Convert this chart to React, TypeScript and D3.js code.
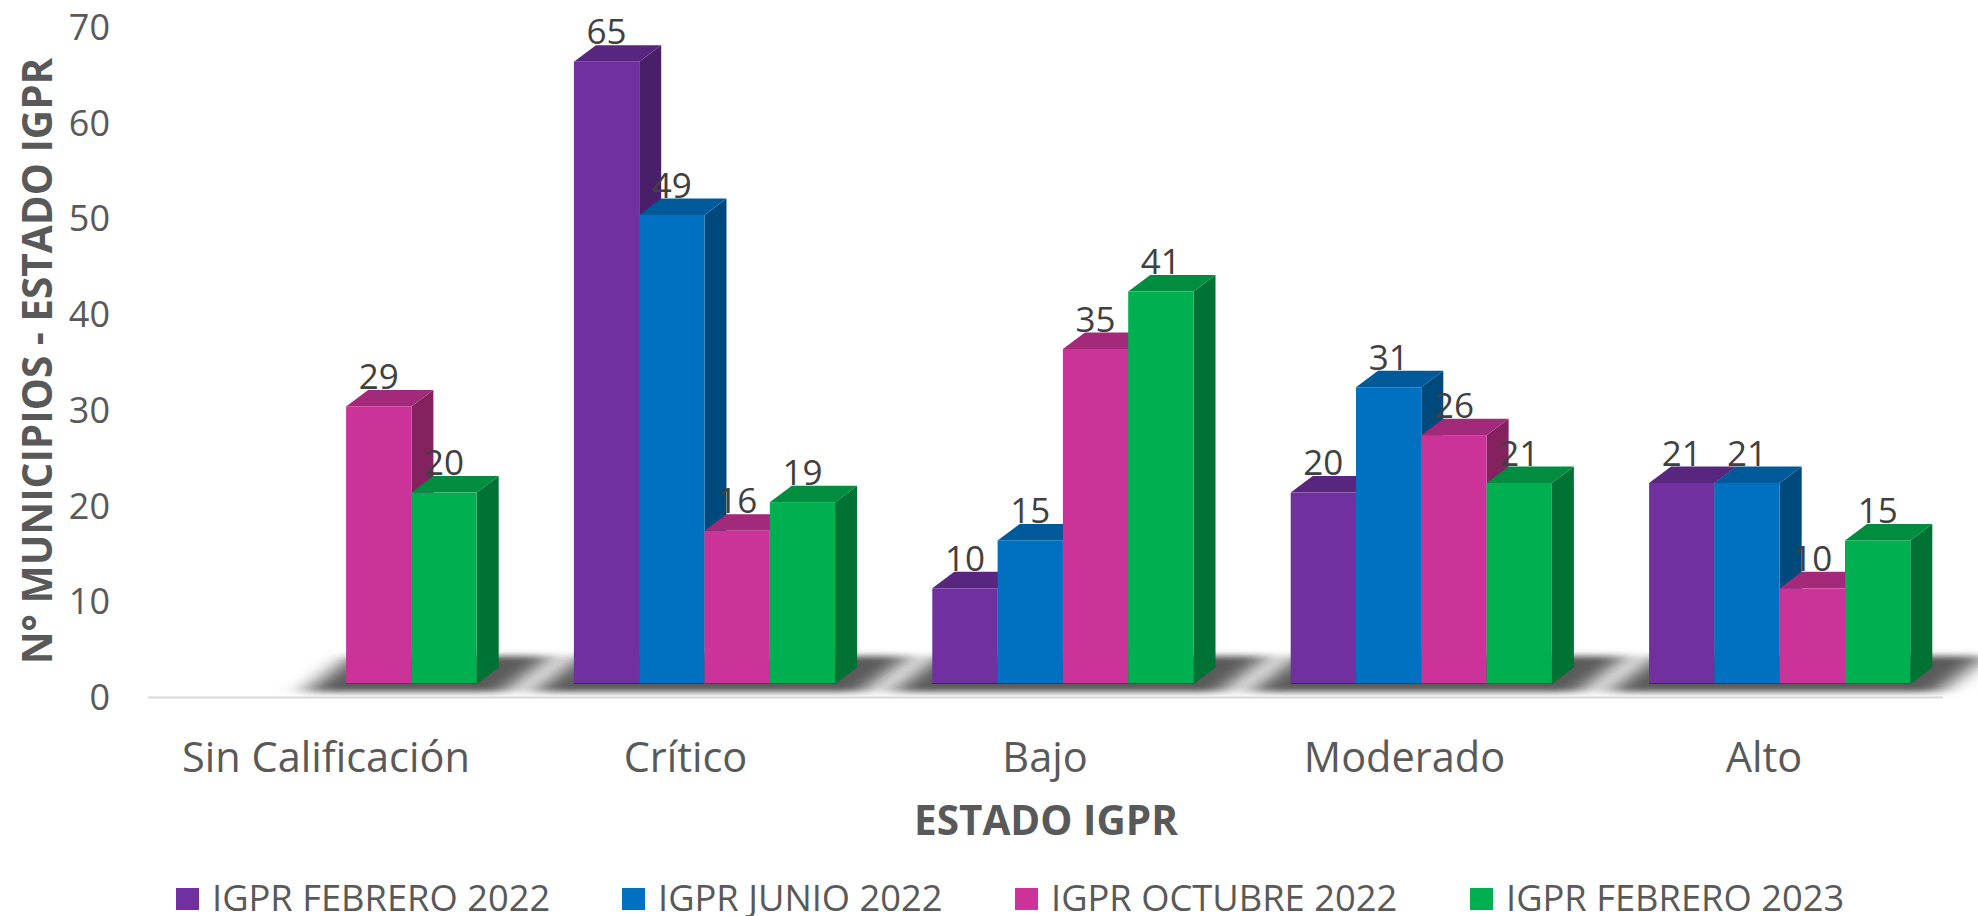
import React from "react";
import * as d3 from "d3";

const categories = ["Sin Calificación", "Crítico", "Bajo", "Moderado", "Alto"];
const seriesNames = ["IGPR FEBRERO 2022", "IGPR JUNIO 2022", "IGPR OCTUBRE 2022", "IGPR FEBRERO 2023"];
const febrero2022 = [null, 65, 10, 20, 21];
const junio2022 = [null, 49, 15, 31, 21];
const octubre2022 = [29, 16, 35, 26, 10];
const febrero2023 = [20, 19, 41, 21, 15];
const seriesValues = [febrero2022, junio2022, octubre2022, febrero2023];
const yTicks = [0, 10, 20, 30, 40, 50, 60, 70];
const frontColors = ["#7030A0", "#0070C0", "#CC3399", "#00B050"];
const topColors = ["#59267F", "#005A9A", "#A3297A", "#008D40"];
const sideColors = ["#481F68", "#00497D", "#84215F", "#007233"];
const legendX = [176, 622, 1015, 1470];

const W = 1978, H = 916;
const FONT = "'Open Sans', sans-serif";
const DX = 22, DY = 16.5, FLOOR = 14;

export default function App() {
  const y = d3.scaleLinear().domain([0, 70]).range([698, 28]);
  const x0 = d3.scaleBand().domain(categories).range([148, 1940]);
  const x1 = d3.scaleBand().domain(seriesNames).range([67.5, 328.7]);
  const xLabel = d3.scalePoint().domain(categories).range([326, 1764]);
  const baseY = y(0) - FLOOR;

  const shadows = categories.map((c, ci) => {
    const present = seriesNames.filter((_, si) => seriesValues[si][ci] != null);
    const l = x0(c)! + x1(present[0])!;
    const r = x0(c)! + x1(present[present.length - 1])! + x1.bandwidth();
    const pts = [[l - 42, baseY + 8], [r + 28, baseY + 8], [r + 76, baseY - 28], [l + 6, baseY - 28]];
    return pts.map((p) => p.join(",")).join(" ");
  });

  return (
    <svg width={W} height={H} style={{ position: "absolute", left: 0, top: 0, background: "#fff" }} fontFamily={FONT}>
      <defs>
        <filter id="soft" x="-30%" y="-50%" width="160%" height="200%">
          <feGaussianBlur stdDeviation="14 3" />
        </filter>
      </defs>

      <g>
        {shadows.map((pts, i) => (
          <polygon key={i} points={pts} fill="#5a5a5a" filter="url(#soft)" />
        ))}
      </g>
      <line x1={148} x2={1943} y1={y(0) - 0.5} y2={y(0) - 0.5} stroke="#D9D9D9" strokeWidth={2} />

      {yTicks.map((t) => (
        <text key={t} x={110} y={y(t) - 1} dy="0.36em" textAnchor="end" fontSize={36} fill="#595959">{t}</text>
      ))}

      {categories.map((c, ci) =>
        seriesNames.map((s, si) => {
          const v = seriesValues[si][ci];
          if (v == null) return null;
          const xl = x0(c)! + x1(s)!;
          const xr = xl + x1.bandwidth();
          const top = y(v) - FLOOR;
          return (
            <g key={c + s}>
              <polygon points={`${xr},${baseY} ${xr + DX},${baseY - DY} ${xr + DX},${top - DY} ${xr},${top}`} fill={sideColors[si]} />
              <polygon points={`${xl},${top} ${xl + DX},${top - DY} ${xr + DX},${top - DY} ${xr},${top}`} fill={topColors[si]} />
              <rect x={xl} y={top} width={xr - xl} height={baseY - top} fill={frontColors[si]} />
              <line x1={xl} x2={xr} y1={baseY - 0.5} y2={baseY - 0.5} stroke={sideColors[si]} strokeWidth={1} />
            </g>
          );
        })
      )}

      {categories.map((c, ci) =>
        seriesNames.map((s, si) => {
          const v = seriesValues[si][ci];
          if (v == null) return null;
          const xc = x0(c)! + x1(s)! + x1.bandwidth() / 2;
          return (
            <text key={c + s} x={xc} y={y(v) - FLOOR - DY - 1} textAnchor="middle" fontSize={35} fill="#404040">{v}</text>
          );
        })
      )}

      {categories.map((c) => (
        <text key={c} x={xLabel(c)!} y={772} textAnchor="middle" fontSize={41.5} fill="#595959">{c}</text>
      ))}

      <text x={1046} y={835} textAnchor="middle" fontSize={40.5} fontWeight={700} fill="#595959">ESTADO IGPR</text>
      <text transform="translate(52,361) rotate(-90)" textAnchor="middle" fontSize={40.5} fontWeight={700} fill="#595959">N° MUNICIPIOS - ESTADO IGPR</text>

      {seriesNames.map((s, i) => (
        <g key={s}>
          <rect x={legendX[i]} y={888} width={23} height={22} fill={frontColors[i]} />
          <text x={legendX[i] + 36} y={911} fontSize={36.3} fill="#595959">{s}</text>
        </g>
      ))}
    </svg>
  );
}
